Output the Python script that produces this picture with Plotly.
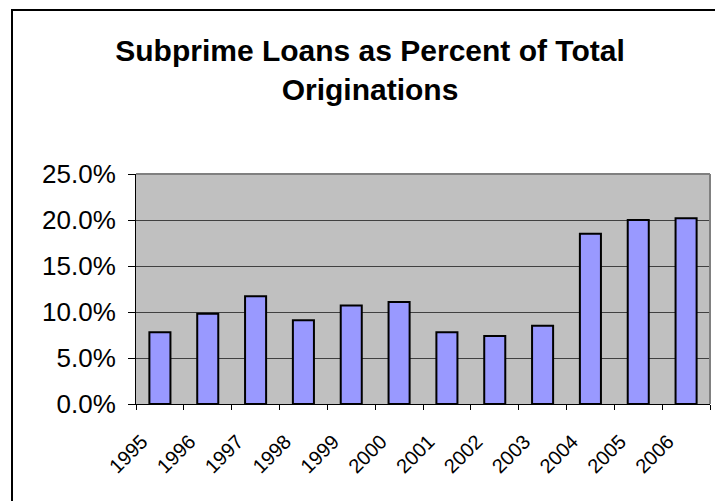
import plotly.graph_objects as go

years = ["1995", "1996", "1997", "1998", "1999", "2000", "2001", "2002", "2003", "2004", "2005", "2006"]
subprime_pct = [7.8, 9.8, 11.7, 9.1, 10.7, 11.1, 7.8, 7.4, 8.5, 18.5, 20.0, 20.2]
y_ticks = [0, 5, 10, 15, 20, 25]
y_tick_labels = ["0.0%", "5.0%", "10.0%", "15.0%", "20.0%", "25.0%"]
title_text = "Subprime Loans as Percent of Total<br>Originations"

fig = go.Figure(go.Bar(
    x=years, y=subprime_pct,
    marker=dict(color="#9999FF", line=dict(color="black", width=2)),
))

fig.update_layout(
    width=715, height=501,
    margin=dict(l=136, r=5, t=174, b=97),
    paper_bgcolor="white", plot_bgcolor="#C0C0C0",
    bargap=0.56, showlegend=False,
    font=dict(family="Liberation Sans, Arial, sans-serif", color="black"),
    title=dict(text="<b>" + title_text + "</b>", font=dict(size=30, color="black"),
               x=(370 - 136) / 574, xref="paper", xanchor="center",
               y=1 - 61 / 501, yref="container", yanchor="top"),
)

fig.update_xaxes(
    type="category", showgrid=False, showline=True, linecolor="black", linewidth=1,
    ticks="outside", ticklen=5, tickcolor="black", tickson="boundaries",
    tickangle=-45, tickfont=dict(size=20), ticklabelshift=-18, ticklabelstandoff=17,
)
fig.update_yaxes(
    range=[0, 25], tickvals=y_ticks, ticktext=y_tick_labels,
    showgrid=True, gridcolor="#404040", gridwidth=1,
    showline=True, linecolor="black", linewidth=1,
    ticks="outside", ticklen=7, tickcolor="black", tickfont=dict(size=26),
    ticklabelstandoff=7, zeroline=False,
)

# plot-area border (top/right, gray) and outer chart border
fig.add_shape(type="line", xref="paper", yref="paper", x0=0, x1=1, y0=1, y1=1,
              line=dict(color="#808080", width=2))
fig.add_shape(type="line", xref="paper", yref="paper", x0=1, x1=1, y0=0, y1=1,
              line=dict(color="#808080", width=2))
fig.add_shape(type="rect", xref="paper", yref="paper",
              x0=(12 - 136) / 574, x1=(730 - 136) / 574,
              y0=(404 - 520) / 230, y1=(404 - 10) / 230,
              line=dict(color="black", width=2), fillcolor="rgba(0,0,0,0)")

fig.write_html("out.html")
